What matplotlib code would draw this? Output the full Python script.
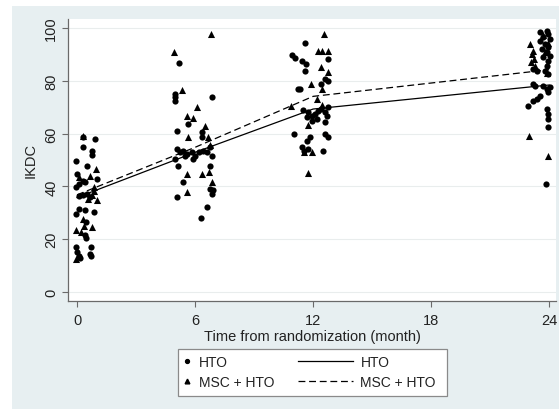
import numpy as np
import matplotlib
matplotlib.use('Agg')
import matplotlib.pyplot as plt
from matplotlib.lines import Line2D
from matplotlib.patches import Rectangle

plt.rcParams['font.family'] = ['Liberation Sans', 'DejaVu Sans']

# --- data ---
# HTO group (circles): jittered time (month), IKDC
hto_t = [0.30, 0.92, 0.28, 0.78, 0.75, -0.04, 0.50, 0.00, 1.00, 0.28, 0.08, 0.40, -0.04, 0.08, 0.28,
         0.50, 0.66, 0.08, 0.40, 0.84, -0.04, 0.45, 0.40, 0.48, -0.04, 0.70, 0.00, 0.08, 0.16, 0.66, 0.72,
         5.19, 4.98, 4.98, 4.98, 6.85, 5.66, 5.07, 6.34, 6.34, 5.07, 5.24, 5.41, 5.58, 5.83, 6.00, 6.22,
         6.42, 6.59, 6.76, 6.85, 4.98, 5.15, 5.49, 5.92, 6.76, 5.40, 6.76, 6.93, 6.85, 5.10, 6.60, 6.30,
         11.59, 10.95, 11.08, 11.42, 11.63, 12.78, 11.59, 12.61, 12.74, 12.41, 11.22, 11.34, 11.51, 11.76,
         11.93, 12.10, 12.27, 12.41, 12.61, 12.69, 12.18, 11.93, 11.68, 12.78, 12.61, 11.05, 12.61, 12.78,
         11.85, 11.68, 11.42, 11.56, 11.76, 12.52,
         23.54, 23.88, 23.96, 23.71, 24.05, 23.54, 23.79, 23.96, 23.62, 23.88, 24.05, 23.71, 23.96, 23.88,
         23.20, 23.37, 23.79, 23.96, 23.20, 23.29, 23.71, 23.88, 23.96, 24.05, 23.54, 23.37, 23.20, 22.95,
         23.88, 23.93, 23.93, 23.96, 23.83]
hto_v = [58.7, 58.0, 54.8, 53.5, 52.0, 49.5, 47.6, 44.7, 42.8, 42.0, 41.0, 41.5, 39.6, 36.5, 36.8,
         37.2, 36.0, 31.4, 31.0, 30.4, 29.4, 26.4, 21.5, 20.5, 16.9, 16.9, 15.0, 13.5, 13.0, 14.5, 13.5,
         86.6, 75.0, 74.0, 72.5, 73.7, 63.6, 61.1, 60.6, 58.7, 54.2, 52.9, 53.5, 52.2, 52.9, 51.6, 53.1,
         53.5, 52.9, 54.8, 51.6, 50.4, 47.8, 51.6, 50.4, 47.8, 41.5, 39.0, 38.5, 37.0, 35.9, 32.1, 28.0,
         94.3, 89.6, 88.5, 87.6, 86.4, 88.3, 83.8, 80.7, 80.0, 78.8, 76.9, 76.9, 69.1, 68.1,
         66.8, 67.4, 68.7, 69.3, 68.1, 66.8, 65.5, 64.9, 66.2, 70.0, 64.3, 59.8, 59.8, 58.6,
         58.6, 57.3, 54.8, 53.5, 54.2, 53.5,
         98.4, 99.0, 97.7, 96.4, 95.8, 95.2, 93.9, 92.7, 92.0, 90.8, 89.5, 88.9, 87.6, 85.7,
         84.5, 83.8, 83.8, 82.6, 78.8, 78.2, 78.2, 77.0, 75.7, 77.5, 74.4, 73.1, 72.5, 70.6,
         69.3, 67.4, 65.5, 62.4, 40.9]

# MSC + HTO group (triangles)
msc_t = [0.32, 0.96, 0.66, 0.84, 0.78, 1.00, 0.28, 0.36, 0.74, -0.04, -0.04, 0.12, 0.85, 0.55, 0.18,
         6.80, 4.93, 5.36, 6.08, 5.60, 5.90, 6.50, 5.66, 6.66, 6.76, 5.58, 6.34, 6.70, 6.85, 5.58,
         12.57, 12.27, 12.44, 12.74, 12.41, 12.78, 11.89, 12.47, 12.18, 10.88, 12.44, 11.72, 11.56,
         11.93, 11.75,
         23.03, 23.20, 23.11, 23.25, 23.08, 23.29, 23.88, 22.98, 23.96, 23.71, 23.96, 23.79]
msc_v = [59.2, 46.6, 44.0, 39.6, 36.8, 35.0, 27.6, 25.1, 24.8, 23.5, 12.5, 43.4, 38.4, 35.2, 22.6,
         97.7, 90.8, 76.5, 70.2, 66.8, 65.8, 63.0, 58.6, 58.6, 55.7, 44.7, 44.7, 45.5, 41.5, 37.8,
         97.7, 91.4, 91.4, 91.4, 85.1, 83.2, 78.8, 76.9, 73.1, 70.3, 70.7, 63.3, 53.2,
         53.2, 45.1,
         93.9, 91.4, 90.2, 88.3, 87.0, 85.7, 83.0, 59.2, 51.6, 97.2, 94.5, 91.0]

# fitted means
months = [0, 6, 12, 24]
hto_mean = [35.8, 52.9, 69.3, 78.4]
msc_mean = [36.8, 54.8, 74.1, 84.2]

x_ticks = [0, 6, 12, 18, 24]
y_ticks = [0, 20, 40, 60, 80, 100]
labels = ['HTO', 'MSC + HTO']

# --- figure ---
W, H = 559, 410
fig = plt.figure(figsize=(W / 100, H / 100), dpi=100, facecolor='white')
fig.patches.append(Rectangle((12 / W, 0), 1 - 12 / W, 1 - 7 / H, transform=fig.transFigure,
                             facecolor='#e7eff1', edgecolor='none', zorder=-10))

ax = fig.add_axes([68 / W, 1 - 302 / H, (556 - 68) / W, (302 - 20) / H])
ax.set_facecolor('white')

ax.scatter(hto_t, hto_v, marker='o', s=20, color='black', linewidths=0, zorder=3)
ax.scatter(msc_t, msc_v, marker='^', s=26, color='black', linewidths=0, zorder=3)
ax.plot(months, hto_mean, color='black', lw=0.9, zorder=4)
ax.plot(months, msc_mean, color='black', lw=0.9, dashes=(5.5, 3), zorder=4)

ax.set_xlim(-0.46, 24.35)
ax.set_ylim(-3.4, 103.4)
ax.set_xticks(x_ticks)
ax.set_yticks(y_ticks)
ax.grid(True, axis='y', color='#e9eded', lw=0.8, zorder=0)

for s in ['top', 'right']:
    ax.spines[s].set_visible(False)
for s in ['left', 'bottom']:
    ax.spines[s].set_color('#6a6a6a')
    ax.spines[s].set_linewidth(0.9)

ax.tick_params(axis='both', direction='out', length=4, width=0.8, color='#6a6a6a',
               labelsize=10.5, labelcolor='#222222')
ax.tick_params(axis='x', pad=5)
ax.tick_params(axis='y', pad=3)
plt.setp(ax.get_yticklabels(), rotation=90, va='center')

ax.set_xlabel('Time from randomization (month)', fontsize=10.5, color='#222222', labelpad=1)
ax.set_ylabel('IKDC', fontsize=10.5, color='#222222', labelpad=5)

# --- legend: frame plus two columns ---
fig.patches.append(Rectangle((178 / W, 1 - 397 / H), 269 / W, 47 / H, transform=fig.transFigure,
                             facecolor='white', edgecolor='#8a8a8a', lw=0.9, zorder=5))
mk_handles = [Line2D([], [], marker='o', ls='none', color='black', ms=2.8),
              Line2D([], [], marker='^', ls='none', color='black', ms=3.4)]
ln_handles = [Line2D([], [], color='black', lw=0.9),
              Line2D([], [], color='black', lw=0.9, dashes=(5.5, 3))]
leg1 = fig.legend(mk_handles, labels, loc='center left', bbox_to_anchor=(181 / W, 1 - 373 / H),
                  frameon=False, handlelength=0.8, handletextpad=0.5, labelspacing=0.4,
                  borderpad=0, borderaxespad=0, fontsize=10)
leg2 = fig.legend(ln_handles, labels, loc='center left', bbox_to_anchor=(298 / W, 1 - 373 / H),
                  frameon=False, handlelength=3.95, handletextpad=0.55, labelspacing=0.4,
                  borderpad=0, borderaxespad=0, fontsize=10)
for lg in (leg1, leg2):
    lg.set_zorder(6)
    for t in lg.get_texts():
        t.set_color('#222222')

fig.savefig('out.png', dpi=100, facecolor=fig.get_facecolor())
